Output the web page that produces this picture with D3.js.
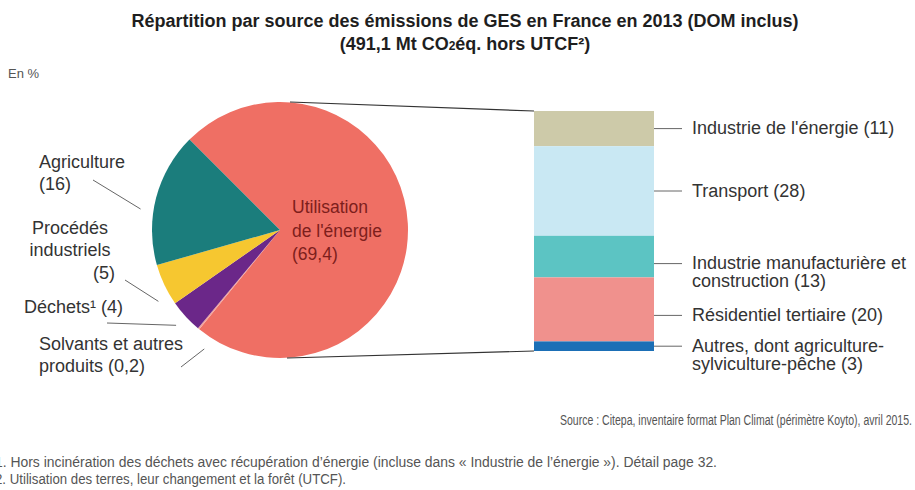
<!DOCTYPE html>
<html>
<head>
<meta charset="utf-8">
<script src="https://cdn.jsdelivr.net/npm/d3@7"></script>
<style>
  body { margin: 0; background: #fff; }
  text { font-family: "Liberation Sans", Arial, sans-serif; }
</style>
</head>
<body>
<div id="chart"></div>
<script>
// Pie: sources of emissions (order = clockwise from the top-left edge)
const pieNames = ["Utilisation de l'énergie", "Solvants et autres produits", "Déchets¹", "Procédés industriels", "Agriculture"];
const pieValues = [69.4, 0.2, 4, 5, 16];
const pieColors = ["#ef6f64", "#f2a29c", "#6b2789", "#f6c730", "#1b7d7c"];

// Stacked bar: detail of "Utilisation de l'énergie" (top to bottom)
const barNames = ["Industrie de l'énergie", "Transport", "Industrie manufacturière et construction", "Résidentiel tertiaire", "Autres, dont agriculture-sylviculture-pêche"];
const barValues = [11, 28, 13, 20, 3];
const barColors = ["#cdcaa9", "#c9e8f3", "#5cc4c3", "#f0918d", "#1b6fb6"];

const width = 915, height = 490;

const svg = d3.select("#chart")
  .append("svg")
  .attr("width", width)
  .attr("height", height);

// titles
svg.append("text")
  .attr("x", 465).attr("y", 27)
  .attr("text-anchor", "middle")
  .attr("font-size", 18).attr("font-weight", "bold").attr("fill", "#1e1e1e")
  .text("Répartition par source des émissions de GES en France en 2013 (DOM inclus)");

const t2 = svg.append("text")
  .attr("x", 465).attr("y", 50)
  .attr("text-anchor", "middle")
  .attr("font-size", 18).attr("font-weight", "bold").attr("fill", "#1e1e1e");
t2.append("tspan").text("(491,1 Mt CO");
t2.append("tspan").attr("font-size", 12).text("2");
t2.append("tspan").text("éq. hors UTCF²)");

svg.append("text")
  .attr("x", 8).attr("y", 78)
  .attr("font-size", 13).attr("fill", "#555")
  .text("En %");

// pie
const cx = 280, cy = 230, r = 128;
const pie = d3.pie().sort(null)
  .startAngle(-Math.PI / 4)
  .endAngle(2 * Math.PI - Math.PI / 4);
const arcs = pie(pieValues);
const arc = d3.arc().innerRadius(0).outerRadius(r);

const gPie = svg.append("g").attr("transform", `translate(${cx},${cy})`);
gPie.selectAll("path")
  .data(arcs)
  .join("path")
  .attr("d", arc)
  .attr("fill", (d, i) => pieColors[i]);

// label inside the big slice
const inner = svg.append("text")
  .attr("font-size", 17.5).attr("fill", "#7d1e1c");
["Utilisation", "de l'énergie", "(69,4)"].forEach((s, i) => {
  inner.append("tspan").attr("x", 292).attr("y", 213 + i * 23.5).text(s);
});

// outside labels for the small slices
const outLabels = [
  { i: 4, lines: ["Agriculture", "(16)"], x: 39, y: 168, anchor: "start", from: [93, 180], shift: -6 },
  { i: 3, lines: ["Procédés", "industriels"], x: 70, y: 234, anchor: "middle", from: [125, 280], shift: -5 },
  { i: 3, lines: ["(5)"], x: 115, y: 279, anchor: "end", from: null },
  { i: 2, lines: ["Déchets¹ (4)"], x: 24, y: 313, anchor: "start", from: [107, 323], shift: 0 },
  { i: 1, lines: ["Solvants et autres", "produits (0,2)"], x: 39, y: 350, anchor: "start", from: [181, 367], shift: -7 }
];
const rLeader = r + 13;

outLabels.forEach(l => {
  const t = svg.append("text")
    .attr("font-size", 18).attr("fill", "#333")
    .attr("text-anchor", l.anchor);
  l.lines.forEach((s, k) => t.append("tspan").attr("x", l.x).attr("y", l.y + k * 22).text(s));
  if (l.from) {
    const a = (arcs[l.i].startAngle + arcs[l.i].endAngle) / 2 + l.shift * Math.PI / 180;
    svg.append("line")
      .attr("x1", l.from[0]).attr("y1", l.from[1])
      .attr("x2", cx + rLeader * Math.sin(a)).attr("y2", cy - rLeader * Math.cos(a))
      .attr("stroke", "#666").attr("stroke-width", 1);
  }
});

// stacked bar
const bx = 534, bw = 120;
const y = d3.scaleLinear()
  .domain([0, d3.sum(barValues)])
  .range([111, 351]);
const cum = d3.cumsum(barValues);
const segs = barValues.map((v, i) => ({ v, i, y0: cum[i] - v, y1: cum[i] }));

svg.append("g").selectAll("rect")
  .data(segs)
  .join("rect")
  .attr("x", bx).attr("width", bw)
  .attr("y", d => y(d.y0))
  .attr("height", d => y(d.y1) - y(d.y0))
  .attr("fill", d => barColors[d.i]);

// connector lines pie -> bar
svg.append("line")
  .attr("x1", cx + 10).attr("y1", cy - r)
  .attr("x2", bx).attr("y2", y(0))
  .attr("stroke", "#333").attr("stroke-width", 1.2);
svg.append("line")
  .attr("x1", cx + 7).attr("y1", cy + r)
  .attr("x2", bx).attr("y2", y(d3.sum(barValues)))
  .attr("stroke", "#333").attr("stroke-width", 1.2);

// bar labels
const barLabelLines = [
  ["Industrie de l'énergie (11)"],
  ["Transport (28)"],
  ["Industrie manufacturière et", "construction (13)"],
  ["Résidentiel tertiaire (20)"],
  ["Autres, dont agriculture-", "sylviculture-pêche (3)"]
];
const leaderShift = [0, 0, 7, 6, 0];

segs.forEach(d => {
  const ly = (y(d.y0) + y(d.y1)) / 2 + leaderShift[d.i];
  svg.append("line")
    .attr("x1", bx + bw).attr("y1", ly)
    .attr("x2", bx + bw + 28).attr("y2", ly)
    .attr("stroke", "#666").attr("stroke-width", 1);
  const t = svg.append("text")
    .attr("font-size", 18).attr("fill", "#333");
  barLabelLines[d.i].forEach((s, k) => {
    t.append("tspan").attr("x", 692).attr("y", ly + 5.5 + k * 18).text(s);
  });
});

// source and footnotes
svg.append("text")
  .attr("x", 912).attr("y", 425)
  .attr("text-anchor", "end")
  .attr("font-size", 14).attr("fill", "#555")
  .attr("textLength", 352).attr("lengthAdjust", "spacingAndGlyphs")
  .text("Source : Citepa, inventaire format Plan Climat (périmètre Koyto), avril 2015.");

svg.append("text")
  .attr("x", -5).attr("y", 467)
  .attr("font-size", 14).attr("fill", "#555")
  .attr("textLength", 722).attr("lengthAdjust", "spacingAndGlyphs")
  .text("1. Hors incinération des déchets avec récupération d’énergie (incluse dans « Industrie de l’énergie »). Détail page 32.");

svg.append("text")
  .attr("x", -5).attr("y", 484)
  .attr("font-size", 14).attr("fill", "#555")
  .attr("textLength", 351).attr("lengthAdjust", "spacingAndGlyphs")
  .text("2. Utilisation des terres, leur changement et la forêt (UTCF).");
</script>
</body>
</html>
